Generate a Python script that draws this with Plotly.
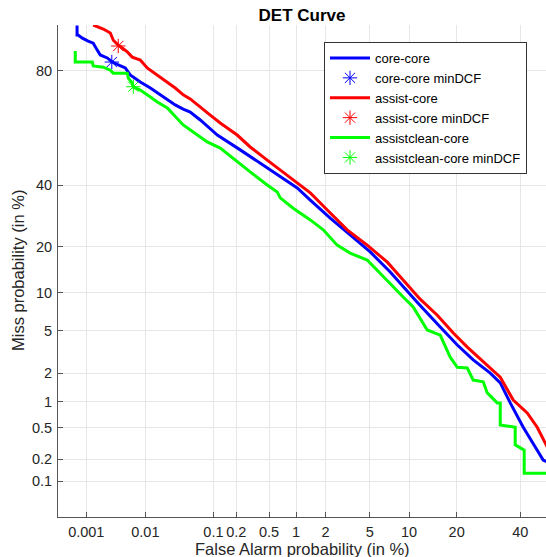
from statistics import NormalDist
import plotly.graph_objects as go

_nd = NormalDist()


def probit(pct):
    return _nd.inv_cdf(pct / 100.0)


# ---- data (percent) ----
cc_fa = [0.00068, 0.00068, 0.00071, 0.00085, 0.00108, 0.00133, 0.00157, 0.00177, 0.00234, 0.00285,
         0.0036, 0.00472, 0.0057, 0.0083, 0.012, 0.0154, 0.0219, 0.0288, 0.0377, 0.0476,
         0.066, 0.113, 0.224, 0.427, 0.671, 1.03, 1.41, 2.22, 3.39, 5.04,
         7.27, 9.07, 11.38, 16.02, 20.17, 24.55, 29.77, 33.04, 36.45, 41.04,
         44.66, 48.32, 50]
cc_miss = [89.9, 88.2, 88.2, 87.6, 87.0, 86.6, 85.1, 84.0, 83.3, 82.3,
           81.6, 80.8, 78.9, 76.9, 75.1, 73.6, 71.3, 69.7, 68.3, 67.3,
           64.5, 59.0, 53.4, 47.6, 43.1, 39.0, 34.6, 28.5, 23.3, 18.6,
           13.9, 11.0, 8.48, 5.35, 3.72, 2.70, 2.00, 1.59, 0.967, 0.506,
           0.324, 0.195, 0.183]

ac_fa = [0.00133, 0.0020, 0.00264, 0.00297, 0.0036, 0.0051, 0.00615, 0.0083, 0.0107, 0.0154,
         0.0219, 0.0288, 0.0377, 0.0476, 0.0907, 0.1235, 0.205, 0.298, 0.476, 0.671,
         0.932, 1.41, 2.08, 3.19, 4.76, 6.91, 9.07, 11.92, 15.37, 19.14,
         22.86, 27.55, 33.04, 37.49, 42.48, 46.12, 50]
ac_miss = [90.0, 89.3, 88.6, 87.2, 86.2, 84.7, 83.5, 82.8, 80.8, 78.9,
           76.9, 75.1, 73.0, 71.7, 66.2, 63.4, 59.0, 54.5, 49.5, 45.7,
           41.9, 37.2, 31.2, 24.8, 20.4, 16.1, 12.3, 8.94, 6.70, 4.76,
           3.56, 2.57, 1.82, 1.04, 0.745, 0.506, 0.28]

acl_fa = [0.00063, 0.00063, 0.00128, 0.00133, 0.0020, 0.00264, 0.00297, 0.0051, 0.0053, 0.00615,
          0.0064, 0.0083, 0.012, 0.0154, 0.0219, 0.0288, 0.0377, 0.0525, 0.0825, 0.1235,
          0.205, 0.298, 0.476, 0.621, 0.671, 0.932, 1.41, 1.90, 2.58, 3.39,
          4.76, 6.07, 7.66, 9.07, 10.68, 13.26, 16.02, 18.37, 20.17, 22.86,
          24.55, 27.55, 28.81, 32.04, 33.04, 33.04, 38.18, 38.18, 41.04, 41.39,
          41.39, 50]
acl_miss = [84.9, 82.3, 82.3, 81.3, 81.0, 80.2, 79.4, 79.4, 78.0, 76.6,
            75.4, 74.5, 72.3, 70.7, 68.7, 65.6, 62.7, 60.1, 56.4, 54.1,
            48.8, 45.0, 40.1, 37.5, 35.4, 31.8, 27.9, 24.8, 20.4, 18.3,
            16.6, 13.7, 11.0, 9.27, 7.78, 5.05, 4.56, 2.87, 2.29, 2.25,
            1.70, 1.63, 1.245, 0.967, 0.967, 0.540, 0.506, 0.307, 0.263, 0.263,
            0.130, 0.130]

mindcf_names = ["core-core minDCF", "assist-core minDCF", "assistclean-core minDCF"]
mindcf_fa = [0.0028, 0.0036, 0.0064]
mindcf_miss = [82.3, 86.0, 75.5]

x_tick_vals = [0.001, 0.01, 0.1, 0.2, 0.5, 1, 2, 5, 10, 20, 40]
x_tick_text = ["0.001", "0.01", "0.1", "0.2", "0.5", "1", "2", "5", "10", "20", "40"]
y_tick_vals = [0.1, 0.2, 0.5, 1, 2, 5, 10, 20, 40, 80]
y_tick_text = ["0.1", "0.2", "0.5", "1", "2", "5", "10", "20", "40", "80"]
x_limits = [0.0003, 49.36]
y_limits = [0.03, 90.0]

FONT = "Liberation Sans, Arial, Helvetica, sans-serif"
TXT = "#262626"
colors = ["#0000FF", "#FF0000", "#00FF00"]

curves = [("core-core", cc_fa, cc_miss),
          ("assist-core", ac_fa, ac_miss),
          ("assistclean-core", acl_fa, acl_miss)]

fig = go.Figure()
for i, (name, fa, miss) in enumerate(curves):
    fig.add_trace(go.Scatter(
        x=[probit(v) for v in fa], y=[probit(v) for v in miss],
        mode="lines", name=name,
        line=dict(color=colors[i], width=3),
    ))
    fig.add_trace(go.Scatter(
        x=[probit(mindcf_fa[i])], y=[probit(mindcf_miss[i])],
        mode="markers", name=mindcf_names[i],
        marker=dict(symbol="asterisk-open", size=12, color=colors[i],
                    line=dict(color=colors[i], width=1)),
    ))

axis_common = dict(
    showgrid=True, gridcolor="#e6e6e6", gridwidth=1,
    zeroline=False, showline=True, linecolor="#555555", linewidth=1,
    ticks="inside", ticklen=5, tickcolor="#555555", tickwidth=1,
    tickfont=dict(family=FONT, size=14.5, color=TXT),
    mirror=False,
)

fig.update_xaxes(
    range=[probit(x_limits[0]), probit(x_limits[1])],
    tickmode="array", tickvals=[probit(v) for v in x_tick_vals], ticktext=x_tick_text,
    ticklabelstandoff=2,
    **axis_common,
)
fig.update_yaxes(
    range=[probit(y_limits[0]), probit(y_limits[1])],
    tickmode="array", tickvals=[probit(v) for v in y_tick_vals], ticktext=y_tick_text,
    ticklabelstandoff=2,
    **axis_common,
)

fig.update_layout(
    width=546, height=557, autosize=False,
    margin=dict(l=58, r=0, t=25, b=40),
    paper_bgcolor="white", plot_bgcolor="white",
    title=dict(text="DET Curve", x=0.5, xref="paper", xanchor="center",
               y=1 - 15 / 557, yref="container", yanchor="middle",
               font=dict(family=FONT, size=17, color="#000000", weight=700)),
    showlegend=True,
    legend=dict(
        x=(324 - 58) / 488, y=(517 - 42) / 492, xanchor="left", yanchor="top",
        bgcolor="white", bordercolor="#333333", borderwidth=1,
        font=dict(family=FONT, size=13, color="#000000"),
        itemwidth=40, tracegroupgap=0,
    ),
    annotations=[
        dict(text="False Alarm probability (in %)", xref="paper", yref="paper",
             x=0.5, y=-(548.5 - 517) / 492, xanchor="center", yanchor="middle",
             showarrow=False, font=dict(family=FONT, size=16.5, color=TXT)),
        dict(text="Miss probability (in %)", xref="paper", yref="paper",
             x=(18 - 58) / 488, y=0.5, xanchor="center", yanchor="middle",
             textangle=-90, showarrow=False, font=dict(family=FONT, size=16.5, color=TXT)),
    ],
)

fig.write_html(
    "out.html",
    config={"displayModeBar": False},
    post_script="document.body.style.margin='0';document.body.style.padding='0';"
                "document.body.style.overflow='hidden';",
)
